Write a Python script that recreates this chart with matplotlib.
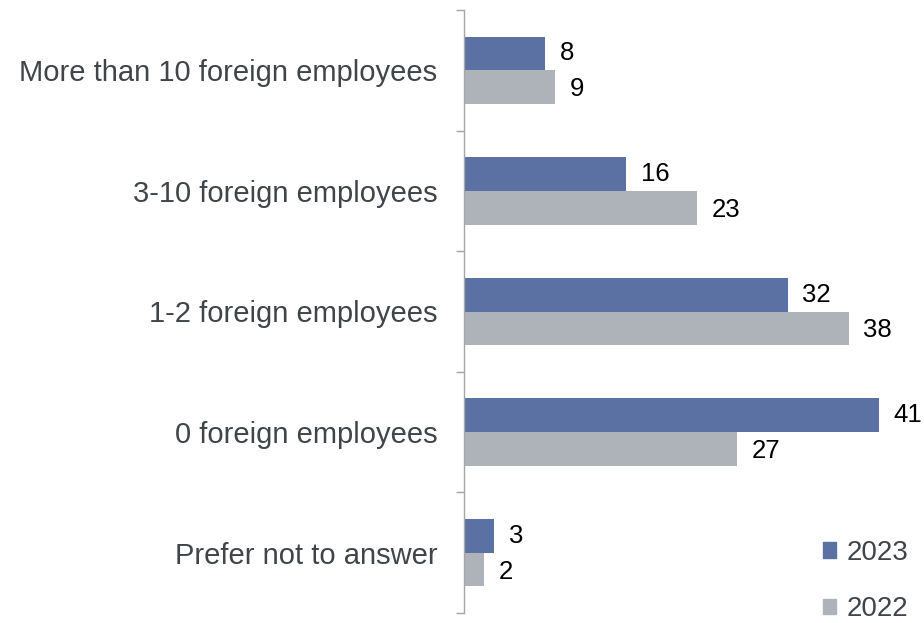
import matplotlib
matplotlib.use("Agg")
import matplotlib.pyplot as plt
import numpy as np
from matplotlib.patches import Patch

categories = ["More than 10 foreign employees", "3-10 foreign employees",
              "1-2 foreign employees", "0 foreign employees", "Prefer not to answer"]
vals_2023 = [8, 16, 32, 41, 3]
vals_2022 = [9, 23, 38, 27, 2]
series_names = ["2023", "2022"]

c2023 = "#5B71A3"
c2022 = "#AEB3BA"
label_color = "#404549"

plt.rcParams["font.family"] = ["Liberation Sans", "DejaVu Sans"]

fig = plt.figure(figsize=(9.24, 6.23), dpi=100)
ax = fig.add_axes([464 / 924, 10 / 623, (919.5 - 464) / 924, 603 / 623])

n = len(categories)
y = np.arange(n)
h = 0.28

ax.barh(y - h / 2, vals_2023, height=h, color=c2023, label=series_names[0])
ax.barh(y + h / 2, vals_2022, height=h, color=c2022, label=series_names[1])

for yi, v in zip(y, vals_2023):
    ax.annotate(str(v), (v, yi - h / 2), xytext=(10.5, 0), textcoords="offset points",
                va="center", ha="left", fontsize=18.5, color="black")
for yi, v in zip(y, vals_2022):
    ax.annotate(str(v), (v, yi + h / 2), xytext=(10.5, -1.5), textcoords="offset points",
                va="center", ha="left", fontsize=18.5, color="black")

ax.set_xlim(0, 45)
ax.set_ylim(n - 0.5, -0.5)
ax.set_yticks(y)
ax.set_yticklabels(categories, fontsize=21, color=label_color)
ax.tick_params(axis="y", which="major", length=0, pad=19)
ax.set_yticks(np.arange(-0.5, n, 1.0), minor=True)
ax.tick_params(axis="y", which="minor", length=6, color="#A6A6A6", width=1)
ax.set_xticks([])

for s in ["top", "right", "bottom"]:
    ax.spines[s].set_visible(False)
ax.spines["left"].set_color("#A6A6A6")
ax.spines["left"].set_linewidth(1)

handles = [Patch(color=c2023), Patch(color=c2022)]
leg = ax.legend(handles, series_names, loc="lower right", bbox_to_anchor=(0.999, -0.034),
                frameon=False, fontsize=20, handlelength=0.5, handleheight=0.5,
                handletextpad=0.35, labelspacing=1.1, borderaxespad=0)
for t in leg.get_texts():
    t.set_color(label_color)

fig.savefig("out.png", dpi=100)
